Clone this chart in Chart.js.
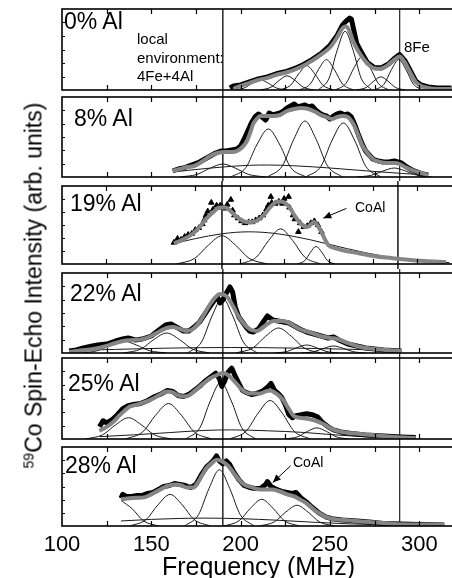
<!DOCTYPE html>
<html><head><meta charset="utf-8">
<script src="https://cdn.jsdelivr.net/npm/chart.js@4.4.0/dist/chart.umd.min.js"></script>
<style>
html,body{margin:0;padding:0;background:#fff;overflow:hidden;width:452px;height:578px}
#wrap{position:relative;width:452px;height:578px;overflow:hidden;font-family:"Liberation Sans",Arial,sans-serif;color:#000}
canvas{position:absolute;left:0}
.lbl{position:absolute;white-space:nowrap;line-height:1}
</style></head><body><div id="wrap"></div>
<script>
// ---------- data ----------
const FREQ_MIN = 100, FREQ_MAX = 320;
const FREQ_TICK_STEP = 50;
const FREQ_MINOR_TICKS = [125,150,175,200,225,250,275,300];
const MARKER_LINES = [190, 289];
const PANEL_LABELS = ['0% Al','8% Al','19% Al','22% Al','25% Al','28% Al'];
const X_TITLE = 'Frequency (MHz)';
const Y_TITLE_SUP = '59';
const Y_TITLE = 'Co Spin-Echo Intensity (arb. units)';

// 0% Al
const data0 = [[194,2],[196,4],[200,5],[205,8],[210,11],[215,13],[220,16],[225,18],[230,21],[235,25],[240,30],[245,36],[250,44],[254,54],[257,64],[259,68],[261,71],[262,70],[263,62],[265,46],[268,36],[271,27],[275,22],[279,22],[283,26],[286,31],[289,35],[292,29],[295,19],[298,9],[301,5],[305,3],[310,2],[318,2]];
const fit0 = [[196,1],[200,4],[205,7],[210,10],[215,12],[220,15],[225,17],[230,20],[235,24],[240,29],[245,35],[250,42],[254,52],[257,61],[259,63],[261,58],[263,48],[266,38],[270,28],[274,22],[278,21],[282,24],[286,30],[289,33],[292,27],[295,17],[298,8],[301,4],[305,2],[310,1],[319,1]];
const comps0 = [
 [[196,0],[202,2],[206.5,6.7],[211,10],[215.5,6.7],[220,2],[226,0]],
 [[211,0],[217,2.8],[221.5,9.4],[226,14],[230.5,9.4],[235,2.8],[241,0]],
 [[222,0],[228,4.8],[232.5,16],[237,24],[241.5,16],[246,4.8],[252,0]],
 [[233,0],[239,6],[243.5,20],[248,30],[252.5,20],[257,6],[263,0]],
 [[243.5,0],[249.5,11.6],[254,39],[258.5,58],[263,39],[267.5,11.6],[273.5,0]],
 [[253,0],[259,6.6],[263.5,22],[268,33],[272.5,22],[277,6.6],[283,0]],
 [[265,0],[270.4,2.6],[274.5,8.7],[278.5,13],[282.5,8.7],[286.6,2.6],[292,0]],
 [[275,0],[280.4,6],[284.4,20],[288.5,30],[292.6,20],[296.6,6],[302,0]]
];
// 8% Al
const data8 = [[162,6],[165,8],[168,9],[171,11],[174,13],[177,15],[180,18],[183,21],[186,24],[189,26],[192,26],[195,27],[198,28],[200,31],[202,38],[204,46],[206,54],[208,60],[210,63],[212,60],[214,57],[216,64],[218,62],[220,63],[222,64],[224,66],[226,69],[228,71],[230,73],[232,70],[234,71],[236,72],[238,70],[240,71],[242,67],[244,64],[246,62],[248,61],[250,58],[252,61],[254,63],[256,64],[258,62],[260,63],[262,60],[264,52],[266,42],[268,33],[270,26],[272,22],[274,18],[277,16],[280,15],[283,15],[286,16],[288,15],[290,14],[293,10],[296,7],[299,5],[302,3],[305,2]];
const fit8 = [[162,6],[166,8],[170,10],[174,11],[178,15],[183,21],[187,24],[191,25],[195,25],[198,26],[201,30],[203.5,36],[205.5,45],[207,53],[209,58],[211,61],[215,61],[218,61],[222,62],[226,66],[230,68],[234,69],[238,68],[242,65],[245,62],[248,60],[251,58],[254,60],[257,61],[260,60],[262,56],[264,50],[266,41],[268,32],[271,24],[274,18],[278,15],[282,14],[286,14],[289,13],[292,10],[296,7],[300,4.5],[305,2]];
const comps8 = [
 [[162,5],[175,7.5],[190,10],[205,11.7],[215,12],[230,11.2],[250,9],[270,6.2],[290,3.6],[305,2]],
 [[166,0],[175.6,2.6],[182.8,8.7],[190,13],[197.2,8.7],[204.4,2.6],[214,0]],
 [[194.5,0],[203,9.6],[209,32],[215.5,48],[222,32],[228,9.6],[236.5,0]],
 [[215,0],[223.4,11.2],[229.7,37.5],[236,56],[242.3,37.5],[248.6,11.2],[257,0]],
 [[236.5,0],[245,10.8],[251,36],[257.5,54],[264,36],[270,10.8],[278.5,0]],
 [[265,0],[273.4,1.8],[279.7,6],[286,9],[292.3,6],[298.6,1.8],[307,0]]
];
// 19% Al
const data19 = [[163,22],[165,26],[167,25],[169,28],[171,30],[173,31],[175,35],[177,37],[179,41],[180,45],[181,50],[182,54],[184,63],[185,56],[187,60],[188,58],[189,60],[190,59],[192,57],[193,61],[195,66],[196,55],[197,50],[199,47],[201,44],[203,42],[205,43],[207,43],[209,45],[211,47],[213,50],[215,56],[216,60],[217.5,69],[218,63],[220,62],[222,64],[224,62],[225,67],[227.5,69],[228,58],[230,50],[231,46],[233,33],[234,42],[236,38],[238,39],[240,42],[242,44],[244,40],[246,33]];
const fit19 = [[163,21],[168,25],[173.6,31],[177,37],[181,46],[185,53],[188.5,58],[192,58],[195,54],[198,49],[201,45],[203.5,43],[207,43],[211,46],[214,51],[217,58],[220,63],[222,64],[225,63],[228,58],[231.5,48],[234,42],[237,38],[239,39],[241.7,43],[244,39],[246.4,31],[248,25],[250,19],[254,16],[258,14],[267,11],[276,8],[286,6],[296,4],[304,3],[316,2]];
const comps19 = [
 [[163,21],[175,26],[190,31],[205,33],[220,31.3],[240,24.7],[260,15.9],[280,8.3],[300,3.6],[318,1.4]],
 [[164.5,0],[174.7,5.8],[182.4,19.4],[190,29],[197.6,19.4],[205.3,5.8],[215.5,0]],
 [[200.5,0],[209.5,7.2],[216.2,24],[223,36],[229.8,24],[236.5,7.2],[245.5,0]],
 [[232.5,0],[236.7,3.6],[239.8,12],[243,18],[246.2,12],[249.3,3.6],[253.5,0]]
];
// 22% Al
const data22 = [[104,2],[108,3],[112,5],[117,7],[120,8],[125,9],[130,12],[134,14],[137,15],[141,13],[145,14],[150,17],[155,24],[158,28],[161,29],[164,26],[168,22],[171,22],[174,26],[177,31],[180,39],[183,47],[185,52],[187,56],[188.5,50],[190,53],[192,60],[194,66],[195.5,61],[197,46],[199,36],[201,31],[203,26],[205,22],[207,21],[210,24],[213,32],[215,37],[218,33],[221,32],[224,31],[227,30],[230,27],[233,24],[237,21],[241,19],[245,17],[249,15],[252,16],[255,13],[260,9],[265,7],[270,5],[275,4],[280,3],[285,2.5],[290,2]];
const fit22 = [[104,1],[110,2.5],[117.6,4],[125,7],[130,10],[134.4,12],[140,13],[145.6,14],[150,17],[155,22],[158.6,25],[162,26],[166,24],[170,22],[174,25],[177.3,32],[180,40],[183,49],[186,56],[188.5,59],[191,58],[193,55],[196,46],[198,39],[201,31],[203.5,26],[206,23],[209,22],[212,25],[215,29],[218.4,32],[222,32],[226,31],[230,27],[233,24],[238,21],[244.5,17],[250,15],[254,14],[260,10],[267,6],[275,4],[282,3],[290,2]];
const comps22 = [
 [[104,2.4],[130,3.6],[160,4.9],[195,5.5],[230,4.9],[260,3.8],[290,2.2]],
 [[110.4,0],[120,2.4],[127.2,8],[134.4,12],[141.6,8],[148.8,2.4],[158.4,0]],
 [[134.6,0],[144.2,4],[151.4,13.4],[158.6,20],[165.8,13.4],[173,4],[182.6,0]],
 [[170.3,0],[178.1,11],[184,37],[189.8,55],[195.6,37],[201.5,11],[209.3,0]],
 [[197.2,0],[206.8,5],[214,16.7],[221.2,25],[228.4,16.7],[235.6,5],[245.2,0]],
 [[219,0],[226.2,1.6],[231.6,5.4],[237,8],[242.4,5.4],[247.8,1.6],[255,0]],
 [[234,0],[241.2,1.4],[246.6,4.7],[252,7],[257.4,4.7],[262.8,1.4],[270,0]]
];
// 25% Al
const data25 = [[121,12],[123,18],[125,16],[128,19],[131,24],[134,30],[137,33],[140,34],[144,35],[148,38],[152,42],[156,45],[159,48],[162,47],[165,43],[168,42],[171,44],[174,48],[177,52],[180,57],[183,61],[186,65],[188,60],[189.5,52],[191,57],[193,66],[195,70],[197,62],[199,55],[201,48],[203,46],[206,44],[209,45],[212,47],[215,51],[217,55],[219,48],[221,45],[223,41],[225,34],[227,24],[229,21],[231,23],[234,24],[237,25],[240,24],[243,22],[246,16],[249,12],[252,9],[256,7],[262,5.5],[270,4],[280,3],[290,2],[298,1.5]];
const fit25 = [[121,8],[125,12],[128.8,17],[132,23],[135,28],[138,32],[142,34],[147,37],[151,40],[155,44],[158.6,47],[162,46],[165,43],[168,42],[171,43],[174,47],[177.3,52],[180,56],[183,60],[186.6,63],[189,65],[191,65],[193,63],[196,58],[199,52],[202,47],[205,45],[208,45],[211,45],[214,47],[216.5,48],[219,46],[222,42],[224,38],[226.5,31],[229.6,23],[233,21],[237,20],[242,18],[246,15],[250,11],[254,8],[260,6],[267,5],[276,3.5],[286,2],[298,1]];
const comps25 = [
 [[121,2.3],[140,4.1],[160,6.3],[180,8.5],[195,9],[215,8.1],[235,6.5],[255,3.8],[275,1.9],[298,0.7]],
 [[113.2,0],[122.8,4.2],[130,14],[137.2,21],[144.4,14],[151.6,4.2],[161.2,0]],
 [[135.6,0],[145.2,7],[152.4,23.5],[159.6,35],[166.8,23.5],[174,7],[183.6,0]],
 [[169.4,0],[177.2,11.2],[183,37.5],[188.9,56],[194.8,37.5],[200.6,11.2],[208.4,0]],
 [[194,0],[203,7.6],[209.8,25.5],[216.5,38],[223.3,25.5],[230,7.6],[239,0]],
 [[224.7,0],[231.9,2.2],[237.3,7.4],[242.7,11],[248.1,7.4],[253.5,2.2],[260.7,0]]
];
// 28% Al
const data28 = [[133,28],[134,32],[136,30],[139,30],[142,31],[145,31],[148,33],[151,34],[154,37],[157,40],[160,41],[163,43],[166,42],[169,41],[172,39],[175,42],[178,52],[181,60],[183,63],[185,67],[186.5,71],[188,66],[190,63],[192,66],[194,62],[196,55],[199,47],[202,41],[205,39],[208,38],[211,38],[214,42],[215,45],[217,40],[220,37],[223,35],[226,34],[229,33],[231,34],[234,28],[237,24],[240,19],[244,13],[248,9],[252,7],[257,6],[265,5],[272,4],[280,2.5],[290,2],[300,1.5],[314,1]];
const fit28 = [[133,27],[138,28],[142,28.5],[146,29],[150,32],[154,36],[157,39],[160,41],[164,42],[167,41],[170,39],[173.6,39],[176,44],[178,50],[181,59],[184,64],[186.6,67],[189,66],[191,64],[193,61],[196,54],[199,47],[202,42],[205,40],[208,38],[211,37],[215,37],[218,37],[222,35],[226,32],[230,30],[233,27],[236,24],[239,20],[242,15],[245,12],[248,9],[252,7],[258,6],[265,5],[272,4],[280,3],[286,2],[300,1.5],[314,1]];
const comps28 = [
 [[133,5.1],[150,6.7],[165,7.6],[180,8],[200,7.4],[220,5.9],[240,3.9],[260,2.2],[280,1.1],[300,0.5]],
 [[133,26],[139.3,17.4],[145.6,5.2],[154,0]],
 [[138,0],[147,6.4],[153.7,21.4],[160.5,32],[167.3,21.4],[174,6.4],[183,0]],
 [[168.6,0],[176.4,11.4],[182.3,38],[188.1,57],[193.9,38],[199.8,11.4],[207.6,0]],
 [[190.8,0],[199.2,5.4],[205.5,18],[211.8,27],[218.1,18],[224.4,5.4],[232.8,0]],
 [[210.5,0],[218.9,4.2],[225.2,14],[231.5,21],[237.8,14],[244.1,4.2],[252.5,0]]
];
// annotation arrows (frequency, intensity): from tail to head
const ARROW_19 = [[260,57],[247,47]];
const ARROW_28 = [[228,61],[218,44]];

// ---------- layout ----------
const FONT = '"Liberation Sans", Arial, sans-serif';
const Y_MAX = 80;
const PANELS = [
  {data:data0,  fit:fit0,  comps:comps0,  top:0,   h:94,  pt:9, pb:4, lbl:[64,10],  markers:[Y_MAX,-40]},
  {data:data8,  fit:fit8,  comps:comps8,  top:94,  h:87,  pt:3, pb:4, lbl:[74,107], markers:[Y_MAX+40,-40]},
  {data:data19, fit:fit19, comps:comps19, top:181, h:88,  pt:4, pb:4, lbl:[70,192], markers:[Y_MAX+40,-40], tri:true, arrow:ARROW_19},
  {data:data22, fit:fit22, comps:comps22, top:269, h:87,  pt:4, pb:3, lbl:[70,282], markers:[Y_MAX+40,-40]},
  {data:data25, fit:fit25, comps:comps25, top:356, h:87,  pt:2, pb:4, lbl:[68,372], markers:[Y_MAX+40,-40]},
  {data:data28, fit:fit28, comps:comps28, top:443, h:145, pt:4, pb:7, lbl:[65,454], markers:[Y_MAX+40,0], arrow:ARROW_28, axis:true}
];
const AXIS_BOX_HEIGHT = 55;

const wrap = document.getElementById('wrap');
const pts = a => a.map(p => ({x:p[0], y:p[1]}));

const framePlugin = {
  id:'frame',
  afterDatasetsDraw(chart){
    const {ctx, chartArea:a, scales:{x, y}} = chart;
    ctx.save();
    ctx.strokeStyle = '#000';
    ctx.lineWidth = 1.6;
    ctx.strokeRect(a.left, a.top, a.right - a.left, a.bottom - a.top);
    ctx.lineWidth = 1.2;
    ctx.beginPath();
    FREQ_MINOR_TICKS.forEach(f => {
      const px = Math.round(x.getPixelForValue(f)) + 0.5;
      ctx.moveTo(px, a.top); ctx.lineTo(px, a.top + 5);
      ctx.moveTo(px, a.bottom); ctx.lineTo(px, a.bottom - 5);
    });
    for (let k = 1; k < 6; k++) {
      const py = Math.round(y.getPixelForValue(y.max * k / 6)) + 0.5;
      ctx.moveTo(a.left, py); ctx.lineTo(a.left + 3, py);
    }
    ctx.stroke();
    ctx.restore();
  }
};
function arrowPlugin(arrow){
  return {
    id:'arrow',
    afterDatasetsDraw(chart){
      if (!arrow) return;
      const {ctx, scales:{x, y}} = chart;
      const x0 = x.getPixelForValue(arrow[0][0]), y0 = y.getPixelForValue(arrow[0][1]);
      const x1 = x.getPixelForValue(arrow[1][0]), y1 = y.getPixelForValue(arrow[1][1]);
      const ang = Math.atan2(y1 - y0, x1 - x0);
      ctx.save();
      ctx.strokeStyle = '#000'; ctx.fillStyle = '#000'; ctx.lineWidth = 1;
      ctx.beginPath(); ctx.moveTo(x0, y0); ctx.lineTo(x1, y1); ctx.stroke();
      const L = 8, W = 3.5;
      ctx.beginPath();
      ctx.moveTo(x1, y1);
      ctx.lineTo(x1 - L*Math.cos(ang) + W*Math.sin(ang), y1 - L*Math.sin(ang) - W*Math.cos(ang));
      ctx.lineTo(x1 - L*Math.cos(ang) - W*Math.sin(ang), y1 - L*Math.sin(ang) + W*Math.cos(ang));
      ctx.closePath(); ctx.fill();
      ctx.restore();
    }
  };
}

PANELS.forEach((p, i) => {
  const cv = document.createElement('canvas');
  cv.width = 458; cv.height = p.h;
  cv.style.top = p.top + 'px';
  cv.style.width = '458px'; cv.style.height = p.h + 'px';
  wrap.appendChild(cv);

  const ds = [];
  MARKER_LINES.forEach(f => ds.push({
    data:[{x:f, y:p.markers[0]}, {x:f, y:p.markers[1]}],
    borderColor:'#333', borderWidth:1, pointRadius:0, clip:false, order:10
  }));
  p.comps.forEach(c => ds.push({
    data:pts(c), borderColor:'#1a1a1a', borderWidth:1, pointRadius:0,
    cubicInterpolationMode:'monotone', order:5
  }));
  if (p.tri) {
    ds.push({data:pts(p.data), showLine:false, pointStyle:'triangle', pointRadius:3.2,
      backgroundColor:'#000', borderColor:'#000', borderWidth:1, order:3});
  } else {
    ds.push({data:pts(p.data), borderColor:'#000', borderWidth:5, pointRadius:0,
      tension:0, borderJoinStyle:'round', order:3});
  }
  ds.push({data:pts(p.fit), borderColor:'#858585', borderWidth:4, pointRadius:0,
    cubicInterpolationMode:'monotone', order:1});

  const xScale = {type:'linear', min:FREQ_MIN, max:FREQ_MAX, display:false};
  if (p.axis) {
    Object.assign(xScale, {
      display:true,
      grid:{display:false, drawTicks:false},
      border:{display:false},
      ticks:{stepSize:FREQ_TICK_STEP, includeBounds:false, autoSkip:false, maxRotation:0,
        padding:8, color:'#000', font:{family:FONT, size:22, lineHeight:1}},
      title:{display:true, text:X_TITLE, color:'#000',
        font:{family:FONT, size:25, lineHeight:1}, padding:{top:0, bottom:0}},
      afterFit(scale){ scale.height = AXIS_BOX_HEIGHT; }
    });
  }
  new Chart(cv, {
    type:'line',
    data:{datasets:ds},
    options:{
      responsive:false, animation:false, devicePixelRatio:1,
      layout:{padding:{left:62, right:3, top:p.pt, bottom:p.pb}},
      scales:{x:xScale, y:{type:'linear', min:0, max:Y_MAX, display:false}},
      plugins:{legend:{display:false}, tooltip:{enabled:false}},
      elements:{point:{radius:0}}
    },
    plugins:[framePlugin, arrowPlugin(p.arrow)]
  });

  const l = document.createElement('div');
  l.className = 'lbl';
  l.style.cssText = `left:${p.lbl[0]}px;top:${p.lbl[1]}px;font-size:23px;`;
  l.textContent = PANEL_LABELS[i];
  wrap.appendChild(l);
});

function note(html, left, top, size, lh){
  const d = document.createElement('div');
  d.className = 'lbl';
  d.style.cssText = `left:${left}px;top:${top}px;font-size:${size}px;line-height:${lh||1};`;
  d.innerHTML = html;
  wrap.appendChild(d);
}
note('local<br>environment:<br>4Fe+4Al', 137, 30, 15, '18.5px');
note('8Fe', 404, 39, 15);
note('CoAl', 355, 200, 14);
note('CoAl', 293, 455, 14);

const yt = document.createElement('div');
yt.className = 'lbl';
yt.style.cssText = 'left:-166px;top:274px;width:400px;height:23px;line-height:23px;font-size:23px;text-align:center;transform:rotate(-90deg);';
yt.innerHTML = `<span style="font-size:14px;position:relative;top:-8px">${Y_TITLE_SUP}</span>${Y_TITLE}`;
wrap.appendChild(yt);
</script></body></html>
